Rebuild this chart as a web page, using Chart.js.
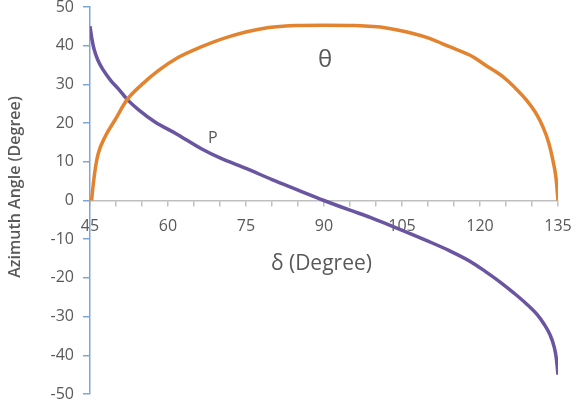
<!DOCTYPE html>
<html>
<head>
<meta charset="utf-8">
<script src="https://cdn.jsdelivr.net/npm/chart.js@4/dist/chart.umd.min.js"></script>
<style>
  html, body { margin: 0; padding: 0; background: #fff; }
  #wrap { width: 575px; height: 403px; }
</style>
</head>
<body>
<div id="wrap"><canvas id="chart"></canvas></div>
<script>
// P curve
const deltaP = [45, 45.4, 45.8, 46.5, 47.5, 49, 50.5, 52.1, 54.3, 57.5, 61.4, 66.5, 70, 75, 80, 85, 90,
	95, 99, 105.4, 110, 114, 118.2, 121, 124, 126.6, 129, 131, 132.3, 133.5, 134.3, 134.7, 135]
const pValues = [45, 41.5, 39, 36.3, 33.8, 31, 28.8, 26.2, 23.5, 20.3, 17.4, 13.3, 11, 8.3, 5.4, 2.7, 0,
	-2.5, -4.4, -7.9, -10.5, -12.9, -15.8, -18.3, -21.2, -24, -26.8, -29.5, -31.9, -34.8, -38, -41, -45]

// theta curve
const deltaTheta = [45.3, 45.7, 46.1, 46.6, 47.9, 49.8, 52.1, 55, 58.2, 62, 66, 71.6, 78, 84.5, 90,
	96, 102, 107.3, 110.3, 114, 118.7, 121, 124.4, 126.6, 128.9, 131, 132.1, 133.2, 134, 134.6, 135]
const thetaValues = [0, 5, 9, 12.2, 16.5, 20.8, 26, 30, 33.6, 37, 39.5, 42.3, 44.4, 45.2, 45.3,
	45.2, 44.6, 43.1, 41.9, 39.8, 37.1, 35, 32, 29.3, 26, 22, 19, 15, 10.5, 6, 0]

const yTicks = { min: -50, max: 50, step: 10 }
const xTicks = { min: 45, max: 135, step: 5, labelEvery: 15 }

// text labels placed in data coordinates
const curveLabels = [
	{ text: 'θ', x: 90.2, y: 36.3, size: 24, weight: 'normal' },
	{ text: 'P', x: 68.6, y: 16.1, size: 16, weight: 'normal' },
	{ text: 'δ (Degree)', x: 89.5, y: -16.4, size: 21, weight: 'normal' },
]
const yTitle = { text: 'Azimuth Angle (Degree)', left: 15, y: 3.5, size: 16 }

const grey = '#595959'
const font = '"Open Sans", "Liberation Sans", sans-serif'

const toPoints = (xs, ys) => xs.map((x, i) => ({ x, y: ys[i] }))

const labelPlugin = {
	id: 'labels',
	afterDraw(chart) {
		const { ctx, scales } = chart
		ctx.save()
		ctx.fillStyle = grey
		ctx.textAlign = 'center'
		ctx.textBaseline = 'middle'
		curveLabels.forEach((l) => {
			ctx.font = l.weight + ' ' + l.size + 'px ' + font
			ctx.fillText(l.text, scales.x.getPixelForValue(l.x), scales.y.getPixelForValue(l.y))
		})
		// y axis title, a bit above centre like the original
		ctx.translate(yTitle.left, scales.y.getPixelForValue(yTitle.y))
		ctx.rotate(-Math.PI / 2)
		ctx.font = '600 ' + yTitle.size + 'px ' + font
		ctx.fillText(yTitle.text, 0, 0)
		ctx.restore()
	},
}

new Chart(document.getElementById('chart'), {
	type: 'scatter',
	data: {
		datasets: [
			{
				label: 'θ',
				data: toPoints(deltaTheta, thetaValues),
				showLine: true,
				borderColor: '#E3832F',
				borderWidth: 3.5,
				pointRadius: 0,
				cubicInterpolationMode: 'monotone',
			},
			{
				label: 'P',
				data: toPoints(deltaP, pValues),
				showLine: true,
				borderColor: '#6A55A0',
				borderWidth: 3.5,
				pointRadius: 0,
				cubicInterpolationMode: 'monotone',
			},
		],
	},
	options: {
		responsive: true,
		maintainAspectRatio: false,
		animation: false,
		layout: { padding: { top: 7, right: 17, bottom: 9, left: 0 } },
		plugins: { legend: { display: false }, tooltip: { enabled: false } },
		scales: {
			x: {
				type: 'linear',
				position: { y: 0 },
				min: xTicks.min,
				max: xTicks.max,
				afterFit: (s) => {
					s.height = 0
					s.paddingLeft = 0
					s.paddingRight = 0
				},
				border: { color: '#BFBFBF', width: 1.5 },
				grid: { drawOnChartArea: false, color: '#BFBFBF', tickLength: 5, lineWidth: 1.5 },
				ticks: {
					stepSize: xTicks.step,
					padding: 11,
					color: grey,
					font: { family: font, size: 16 },
					maxRotation: 0,
					autoSkip: false,
					callback: (v) => (v % xTicks.labelEvery === 0 ? v : ''),
				},
			},
			y: {
				min: yTicks.min,
				max: yTicks.max,
				afterFit: (s) => {
					s.width = 90
					s.paddingTop = 0
					s.paddingBottom = 0
				},
				border: { color: '#7EA6D8', width: 1.5 },
				grid: { drawOnChartArea: false, color: '#7EA6D8', tickLength: 7, lineWidth: 1.5 },
				ticks: {
					stepSize: yTicks.step,
					padding: 9,
					color: grey,
					font: { family: font, size: 16, lineHeight: 1 },
				},
			},
		},
	},
	plugins: [labelPlugin],
})
</script>
</body>
</html>
